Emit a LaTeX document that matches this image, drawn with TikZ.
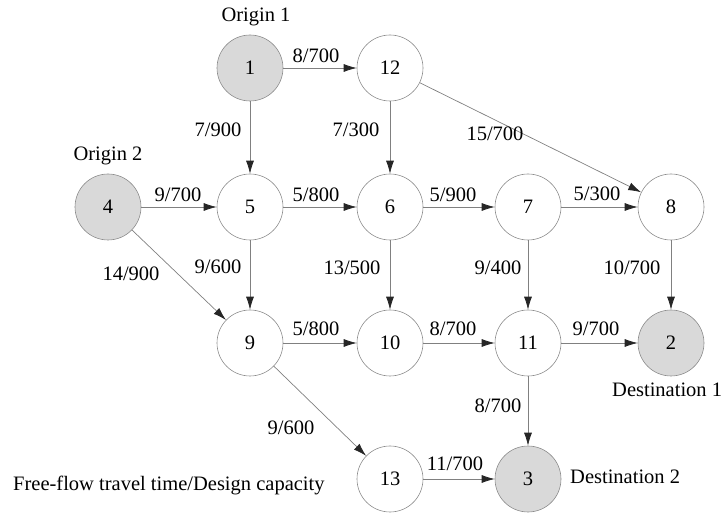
\documentclass[tikz,border=0pt]{standalone}
\usepackage{fontspec}
\setmainfont{Liberation Serif}
\usetikzlibrary{arrows.meta}
\begin{document}
\begin{tikzpicture}[x=1pt,y=-1pt,
  nd/.style={circle,draw=black!45,line width=0.6pt,minimum size=66pt,inner sep=0pt,font=\fontsize{20.5}{24}\selectfont},
  gnd/.style={nd,fill=black!15},
  lbl/.style={font=\fontsize{20.5}{24}\selectfont,inner sep=0pt},
  arr/.style={draw=black!50,line width=0.7pt,-{Latex[length=13pt,width=8pt,color=black!85]}}
]
\useasboundingbox (0,0) rectangle (724,513);
% nodes
\node[gnd] (n1)  at (250,68)  {1};
\node[nd]  (n12) at (390,68)  {12};
\node[gnd] (n4)  at (108,207) {4};
\node[nd]  (n5)  at (250,207) {5};
\node[nd]  (n6)  at (390,207) {6};
\node[nd]  (n7)  at (528,207) {7};
\node[nd]  (n8)  at (671,207) {8};
\node[nd]  (n9)  at (250,343) {9};
\node[nd]  (n10) at (390,343) {10};
\node[nd]  (n11) at (528,343) {11};
\node[gnd] (n2)  at (671,343) {2};
\node[nd]  (n13) at (390,479) {13};
\node[gnd] (n3)  at (528,479) {3};
% edges
\draw[arr] (n1) -- (n12);
\draw[arr] (n1) -- (n5);
\draw[arr] (n12) -- (n6);
\draw[arr] (n12) -- (n8);
\draw[arr] (n4) -- (n5);
\draw[arr] (n4) -- (n9);
\draw[arr] (n5) -- (n6);
\draw[arr] (n5) -- (n9);
\draw[arr] (n6) -- (n7);
\draw[arr] (n6) -- (n10);
\draw[arr] (n7) -- (n8);
\draw[arr] (n7) -- (n11);
\draw[arr] (n8) -- (n2);
\draw[arr] (n9) -- (n10);
\draw[arr] (n9) -- (n13);
\draw[arr] (n10) -- (n11);
\draw[arr] (n11) -- (n2);
\draw[arr] (n11) -- (n3);
\draw[arr] (n13) -- (n3);
% edge labels
\node[lbl] (l1) at (316,56) {8/700};
\node[lbl] (l2) at (218,130) {7/900};
\node[lbl] (l3) at (356,130) {7/300};
\node[lbl] (l4) at (495,134) {15/700};
\node[lbl] (l5) at (178,195) {9/700};
\node[lbl] (l6) at (316,195) {5/800};
\node[lbl] (l7) at (453,195) {5/900};
\node[lbl] (l8) at (597,194) {5/300};
\node[lbl] (l9) at (131,274) {14/900};
\node[lbl] (l10) at (218,267) {9/600};
\node[lbl] (l11) at (352,268) {13/500};
\node[lbl] (l12) at (498,268) {9/400};
\node[lbl] (l13) at (632,268) {10/700};
\node[lbl] (l14) at (316,329) {5/800};
\node[lbl] (l15) at (453,329) {8/700};
\node[lbl] (l16) at (596,329) {9/700};
\node[lbl] (l17) at (291,428) {9/600};
\node[lbl] (l18) at (498,406) {8/700};
\node[lbl] (l19) at (455,464) {11/700};
% other labels
\node[lbl] (o1) at (256,17) {Origin 1};
\node[lbl] (o2) at (108,156) {Origin 2};
\node[lbl,anchor=west] (d1) at (612,390) {Destination 1};
\node[lbl,anchor=west] (d2) at (570,477) {Destination 2};
\node[lbl,anchor=west] (leg) at (13,485) {Free-flow travel time/Design capacity};
\end{tikzpicture}
\end{document}
